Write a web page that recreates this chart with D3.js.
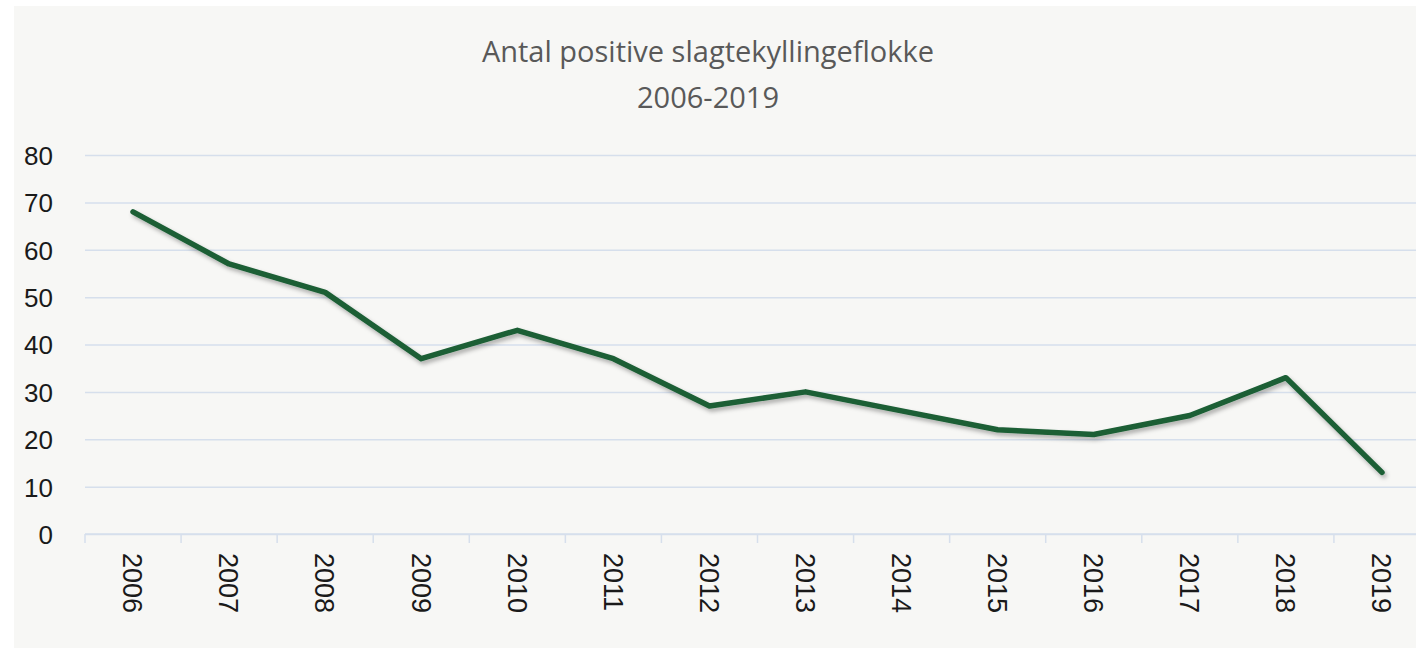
<!DOCTYPE html>
<html>
<head>
<meta charset="utf-8">
<script src="https://cdn.jsdelivr.net/npm/d3@7"></script>
<style>
  html, body { margin: 0; padding: 0; background: #fff; }
  svg { display: block; }
</style>
</head>
<body>
<script>
const width = 1416;
const height = 648;
const margin = {top: 155, left: 85, bottom: 114, right: -14};

const years = ['2006', '2007', '2008', '2009', '2010', '2011', '2012',
  '2013', '2014', '2015', '2016', '2017', '2018', '2019'];
const flocks = [68, 57, 51, 37, 43, 37, 27, 30, 26, 22, 21, 25, 33, 13];
const yTicks = [0, 10, 20, 30, 40, 50, 60, 70, 80];
const titleLines = ['Antal positive slagtekyllingeflokke', '2006-2019'];

const data = years.map((y, i) => ({year: y, value: flocks[i]}));

const x = d3.scaleBand()
  .domain(years)
  .range([margin.left, width - margin.right]);

const y = d3.scaleLinear()
  .domain([0, 80])
  .range([height - margin.bottom, margin.top]);

const svg = d3.select('body').append('svg')
  .attr('width', width)
  .attr('height', height)
  .style('font-family', '"Open Sans", sans-serif');

const defs = svg.append('defs');
defs.append('filter')
  .attr('id', 'shadow')
  .attr('x', '-5%').attr('y', '-20%')
  .attr('width', '110%').attr('height', '140%')
  .append('feDropShadow')
  .attr('dx', 2).attr('dy', 3)
  .attr('stdDeviation', 2)
  .attr('flood-color', '#000')
  .attr('flood-opacity', 0.3);

// chart area background
svg.append('rect')
  .attr('x', 14).attr('y', 6)
  .attr('width', width).attr('height', height)
  .attr('fill', '#f7f7f5');

// title
svg.append('text')
  .attr('x', 708)
  .attr('fill', '#595959')
  .style('font-size', '29px')
  .attr('text-anchor', 'middle')
  .selectAll('tspan').data(titleLines).enter().append('tspan')
  .attr('x', 708)
  .attr('y', (d, i) => 62 + i * 46)
  .text(d => d);

// gridlines + y labels
const yAxis = g => g
  .attr('transform', `translate(${margin.left}, 0)`)
  .call(d3.axisLeft(y)
    .tickValues(yTicks)
    .tickSize(-(width - margin.right - margin.left))
    .tickPadding(32))
  .call(g => g.select('.domain').remove())
  .call(g => g.selectAll('.tick line')
    .attr('stroke', '#d6dfec')
    .attr('stroke-width', 1.5))
  .call(g => g.selectAll('.tick text')
    .attr('fill', '#1a1a1a')
    .style('font-size', '26px')
    .attr('dy', '0.36em'));

svg.append('g').call(yAxis);

// x axis with ticks between categories
const xAxis = g => g
  .attr('transform', `translate(0, ${y(0)})`)
  .call(g => g.append('line')
    .attr('x1', margin.left).attr('x2', width - margin.right)
    .attr('stroke', '#d6dfec').attr('stroke-width', 1.5))
  .call(g => g.selectAll('.sep').data(years).enter().append('line')
    .attr('class', 'sep')
    .attr('x1', d => x(d)).attr('x2', d => x(d))
    .attr('y1', 0).attr('y2', 9)
    .attr('stroke', '#d6dfec').attr('stroke-width', 1.5))
  .call(g => g.selectAll('.lbl').data(years).enter().append('text')
    .attr('class', 'lbl')
    .attr('transform', d => `translate(${x(d) + x.bandwidth() / 2}, 19) rotate(90)`)
    .attr('dy', '0.36em')
    .attr('fill', '#1a1a1a')
    .style('font-family', 'sans-serif')
    .style('font-size', '27px')
    .text(d => d));

svg.append('g').call(xAxis);

const line = d3.line()
  .x(d => x(d.year) + x.bandwidth() / 2)
  .y(d => y(d.value));

svg.append('path')
  .datum(data)
  .attr('fill', 'none')
  .attr('stroke', '#1b5e35')
  .attr('stroke-width', 5.5)
  .attr('stroke-linejoin', 'round')
  .attr('stroke-linecap', 'round')
  .attr('filter', 'url(#shadow)')
  .attr('d', line);

svg.node();
</script>
</body>
</html>
